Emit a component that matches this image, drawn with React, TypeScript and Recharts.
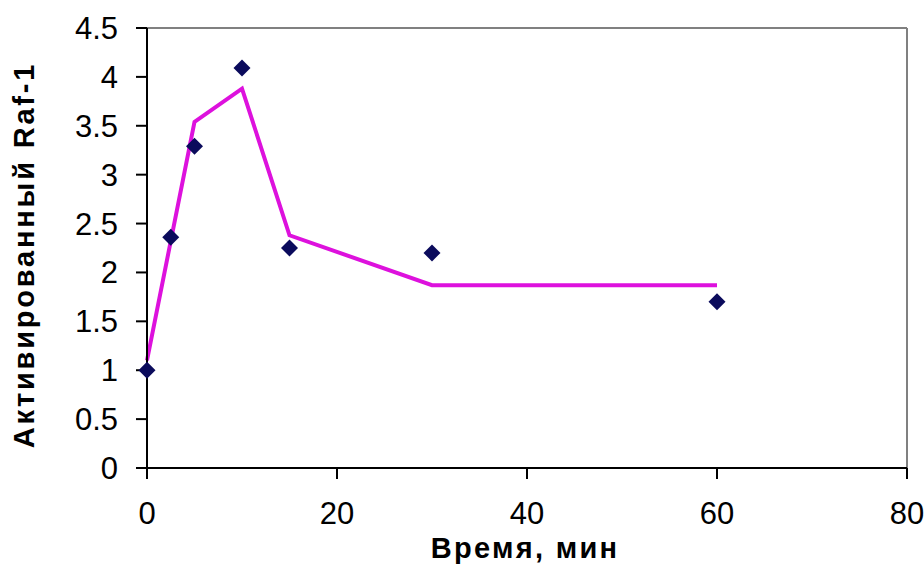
import {
  ComposedChart,
  Line,
  Scatter,
  XAxis,
  YAxis,
  ReferenceLine,
} from "recharts";

// time points, minutes
const minutes = [0, 2.5, 5, 10, 15, 30, 60];
// measured activated Raf-1
const measured = [1.0, 2.36, 3.29, 4.09, 2.25, 2.2, 1.7];
// fitted curve
const fitted = [1.1, 2.32, 3.54, 3.88, 2.38, 1.87, 1.87];

const xTicks = [0, 20, 40, 60, 80];
const yTicks = [0, 0.5, 1, 1.5, 2, 2.5, 3, 3.5, 4, 4.5];

const pointRows = minutes.map((t, i) => ({ t, v: measured[i] }));
const fitRows = minutes.map((t, i) => ({ t, v: fitted[i] }));

const FONT = "'Liberation Sans', Arial, sans-serif";
const tickStyle = { fontSize: 31, fill: "#000", fontFamily: FONT };

function Diamond(props: { cx?: number; cy?: number }) {
  const { cx = 0, cy = 0 } = props;
  const r = 8.5;
  return (
    <polygon
      points={`${cx},${cy - r} ${cx + r},${cy} ${cx},${cy + r} ${cx - r},${cy}`}
      fill="#0b0b5c"
    />
  );
}

export default function App() {
  return (
    <div style={{ position: "absolute", left: 0, top: 0, background: "#fff" }}>
      <ComposedChart
        width={924}
        height={564}
        margin={{ top: 28, right: 17, left: 47, bottom: 36 }}
      >
        <XAxis
          dataKey="t"
          type="number"
          domain={[0, 80]}
          ticks={xTicks}
          allowDuplicatedCategory={false}
          stroke="#000"
          strokeWidth={2}
          tickSize={11}
          tickMargin={23}
          tick={tickStyle}
          height={60}
          label={{
            content: () => (
              <text
                x={525}
                y={548}
                textAnchor="middle"
                dominantBaseline="central"
                fontFamily={FONT}
                fontWeight="bold"
                fontSize={29}
                letterSpacing={2.3}
                fill="#000"
              >
                Время, мин
              </text>
            ),
          }}
        />
        <YAxis
          dataKey="v"
          type="number"
          domain={[0, 4.5]}
          ticks={yTicks}
          stroke="#000"
          strokeWidth={2}
          tickSize={11}
          tickMargin={18}
          tick={tickStyle}
          width={100}
          label={{
            content: () => (
              <text
                x={24}
                y={255}
                transform="rotate(-90 24 255)"
                textAnchor="middle"
                dominantBaseline="central"
                fontFamily={FONT}
                fontWeight="bold"
                fontSize={29}
                letterSpacing={2.8}
                fill="#000"
              >
                Активированный Raf-1
              </text>
            ),
          }}
        />
        <ReferenceLine y={4.5} stroke="#808080" strokeWidth={2} />
        <ReferenceLine x={80} stroke="#808080" strokeWidth={2} />
        <Line
          data={fitRows}
          dataKey="v"
          type="linear"
          stroke="#dd11dd"
          strokeWidth={4}
          dot={false}
          activeDot={false}
          isAnimationActive={false}
        />
        <Scatter
          data={pointRows}
          dataKey="v"
          shape={<Diamond />}
          isAnimationActive={false}
        />
      </ComposedChart>
    </div>
  );
}
